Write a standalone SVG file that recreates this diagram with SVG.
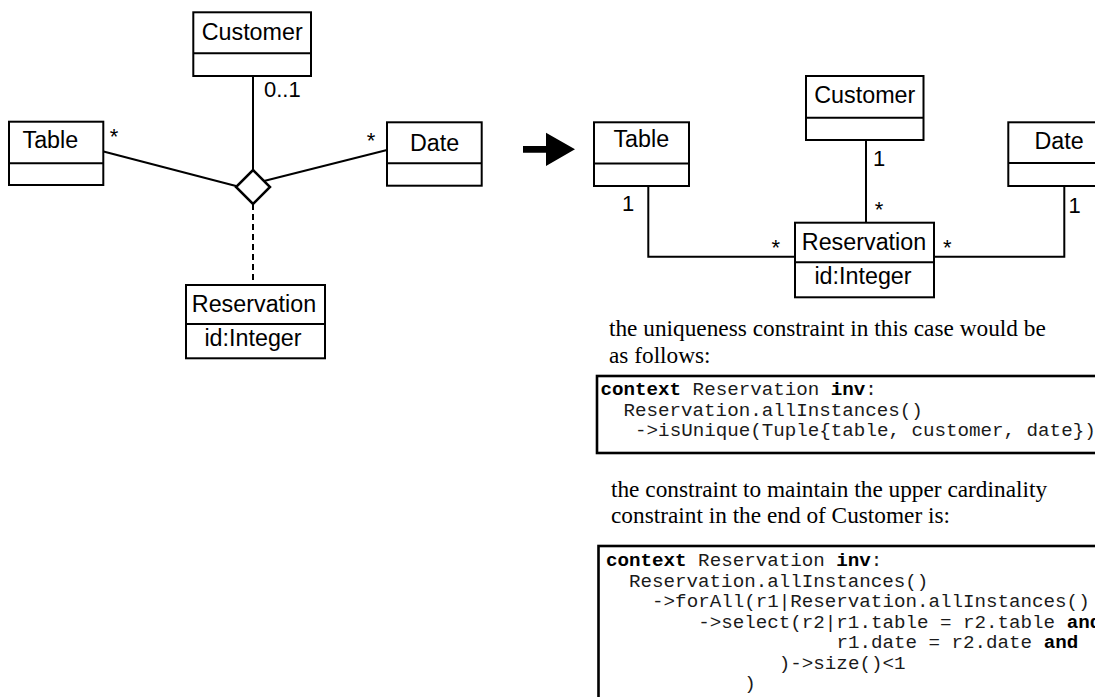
<svg xmlns="http://www.w3.org/2000/svg" width="1095" height="697" viewBox="0 0 1095 697">
  <style>
    .box { fill: #fff; stroke: #000; stroke-width: 2; }
    .div { stroke: #000; stroke-width: 2; }
    .cls { font-family: "Liberation Sans", Arial, sans-serif; font-size: 23.3px; fill: #000; }
    .mult { font-family: "Liberation Sans", Arial, sans-serif; font-size: 22px; fill: #000; }
    .edge { fill: none; stroke: #000; stroke-width: 2; }
    .dash { fill: none; stroke: #000; stroke-width: 2; stroke-dasharray: 6 4; }
    .prose { font-family: "Liberation Serif", "Times New Roman", serif; font-size: 23.3px; fill: #000; }
    .code { font-family: "Liberation Mono", "Courier New", monospace; font-size: 19.2px; fill: #1a1a1a; }
    .kw { font-weight: bold; fill: #000; }
    .frame { fill: #fff; stroke: #000; stroke-width: 2.6; }
  </style>
  <rect width="1095" height="697" fill="#fff"/>

  <!-- ternary association (left) -->
  <g id="connectors-ternary">
    <line class="edge" x1="253" y1="76" x2="253" y2="170"/>
    <line class="edge" x1="103.5" y1="151.5" x2="236" y2="186"/>
    <line class="edge" x1="387" y1="150" x2="264" y2="181"/>
    <line class="dash" x1="253" y1="204" x2="253" y2="285"/>
    <polygon id="assoc-diamond" points="253,170 270,187 253,204 236,187" fill="#fff" stroke="#000" stroke-width="2.5"/>
    <text class="mult" x="264" y="96.7">0..1</text>
    <text class="mult" x="114" y="144" text-anchor="middle">*</text>
    <text class="mult" x="371" y="148" text-anchor="middle">*</text>
  </g>

  <g id="customer-a">
    <rect class="box" x="193.3" y="12.3" width="117.7" height="63.7"/>
    <line class="div" x1="193.3" y1="53.3" x2="311" y2="53.3"/>
    <text class="cls" x="252.2" y="40" text-anchor="middle">Customer</text>
  </g>
  <g id="table-a">
    <rect class="box" x="9" y="121.7" width="94.3" height="63.3"/>
    <line class="div" x1="9" y1="163.3" x2="103.3" y2="163.3"/>
    <text class="cls" x="22.5" y="148">Table</text>
  </g>
  <g id="date-a">
    <rect class="box" x="387" y="122.3" width="94.7" height="63.4"/>
    <line class="div" x1="387" y1="163.3" x2="481.7" y2="163.3"/>
    <text class="cls" x="434.5" y="151" text-anchor="middle">Date</text>
  </g>
  <g id="reservation-a">
    <rect class="box" x="186" y="285" width="139" height="73.3"/>
    <line class="div" x1="186" y1="324" x2="325" y2="324"/>
    <text class="cls" x="254" y="311.7" text-anchor="middle">Reservation</text>
    <text class="cls" x="253" y="345.5" text-anchor="middle">id:Integer</text>
  </g>

  <!-- transformation arrow -->
  <polygon id="transform-arrow" points="523,146 546,146 546,132.7 575,149.3 546,166 546,152.7 523,152.7" fill="#000"/>

  <!-- reified class (right) -->
  <g id="connectors-reified">
    <polyline class="edge" points="648.3,186 648.3,256.7 795,256.7"/>
    <line class="edge" x1="866" y1="140" x2="866" y2="222.7"/>
    <polyline class="edge" points="1064.3,186 1064.3,256.7 934,256.7"/>
    <text class="mult" x="622" y="211">1</text>
    <text class="mult" x="873" y="166">1</text>
    <text class="mult" x="879" y="217" text-anchor="middle">*</text>
    <text class="mult" x="775.7" y="255" text-anchor="middle">*</text>
    <text class="mult" x="947.3" y="255" text-anchor="middle">*</text>
    <text class="mult" x="1068.5" y="212.7">1</text>
  </g>

  <g id="table-b">
    <rect class="box" x="594" y="122.3" width="95" height="63.7"/>
    <line class="div" x1="594" y1="163.5" x2="689" y2="163.5"/>
    <text class="cls" x="641.3" y="147.3" text-anchor="middle">Table</text>
  </g>
  <g id="customer-b">
    <rect class="box" x="806" y="76" width="117.5" height="64"/>
    <line class="div" x1="806" y1="117.7" x2="923.5" y2="117.7"/>
    <text class="cls" x="864.8" y="103.3" text-anchor="middle">Customer</text>
  </g>
  <g id="date-b">
    <rect class="box" x="1008.3" y="122.3" width="100" height="63.7"/>
    <line class="div" x1="1008.3" y1="163" x2="1108.3" y2="163"/>
    <text class="cls" x="1059" y="149.3" text-anchor="middle">Date</text>
  </g>
  <g id="reservation-b">
    <rect class="box" x="795" y="222.7" width="139" height="74.6"/>
    <line class="div" x1="795" y1="262.3" x2="934" y2="262.3"/>
    <text class="cls" x="864" y="250" text-anchor="middle">Reservation</text>
    <text class="cls" x="863" y="284" text-anchor="middle">id:Integer</text>
  </g>

  <!-- uniqueness constraint -->
  <g id="note-unique">
    <text class="prose" x="609" y="336">the uniqueness constraint in this case would be</text>
    <text class="prose" x="609" y="363">as follows:</text>
    <rect class="frame" x="597" y="376" width="520" height="77"/>
    <text class="code" x="600.5" y="395"><tspan class="kw">context</tspan> Reservation <tspan class="kw">inv</tspan>:</text>
    <text class="code" x="623.5" y="415.5">Reservation.allInstances()</text>
    <text class="code" x="635.1" y="436">-&gt;isUnique(Tuple{table, customer, date})</text>
  </g>

  <!-- upper cardinality constraint -->
  <g id="note-cardinality">
    <text class="prose" x="611" y="497">the constraint to maintain the upper cardinality</text>
    <text class="prose" x="611" y="523">constraint in the end of Customer is:</text>
    <rect class="frame" x="598.5" y="546" width="520" height="200"/>
    <text class="code" x="606" y="566"><tspan class="kw">context</tspan> Reservation <tspan class="kw">inv</tspan>:</text>
    <text class="code" x="629" y="586.5">Reservation.allInstances()</text>
    <text class="code" x="652.1" y="607">-&gt;forAll(r1|Reservation.allInstances()</text>
    <text class="code" x="698.2" y="627.5">-&gt;select(r2|r1.table = r2.table <tspan class="kw">and</tspan></text>
    <text class="code" x="836.4" y="648">r1.date = r2.date <tspan class="kw">and</tspan></text>
    <text class="code" x="778.8" y="668.5">)-&gt;size()&lt;1</text>
    <text class="code" x="744.2" y="689">)</text>
  </g>
</svg>
